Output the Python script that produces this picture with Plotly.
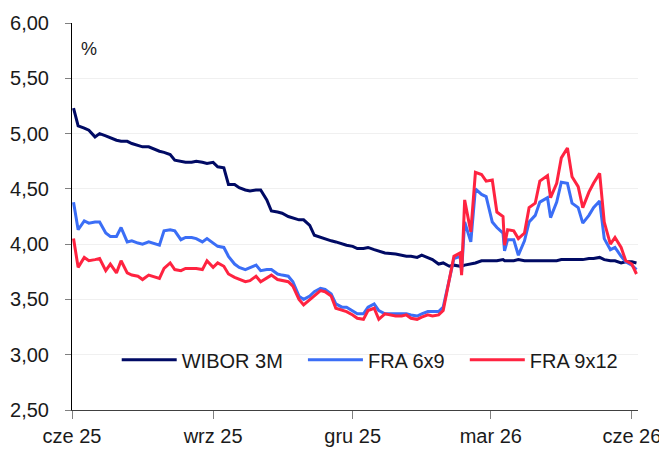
import plotly.graph_objects as go

# notowania (pon./czw.)
dates = [
    "2025-06-02", "2025-06-05", "2025-06-09", "2025-06-12", "2025-06-16", "2025-06-19",
    "2025-06-23", "2025-06-26", "2025-06-30", "2025-07-03", "2025-07-07", "2025-07-10",
    "2025-07-14", "2025-07-17", "2025-07-21", "2025-07-24", "2025-07-28", "2025-07-31",
    "2025-08-04", "2025-08-07", "2025-08-11", "2025-08-14", "2025-08-18", "2025-08-21",
    "2025-08-25", "2025-08-28", "2025-09-01", "2025-09-04", "2025-09-08", "2025-09-11",
    "2025-09-15", "2025-09-18", "2025-09-22", "2025-09-25", "2025-09-29", "2025-10-02",
    "2025-10-06", "2025-10-09", "2025-10-13", "2025-10-16", "2025-10-20", "2025-10-23",
    "2025-10-27", "2025-10-30", "2025-11-03", "2025-11-06", "2025-11-10", "2025-11-13",
    "2025-11-17", "2025-11-20", "2025-11-24", "2025-11-27", "2025-12-01", "2025-12-04",
    "2025-12-08", "2025-12-11", "2025-12-15", "2025-12-18", "2025-12-22", "2025-12-29",
    "2026-01-02", "2026-01-05", "2026-01-08", "2026-01-12", "2026-01-15", "2026-01-19",
    "2026-01-22", "2026-01-26", "2026-01-29", "2026-02-02", "2026-02-05", "2026-02-09",
    "2026-02-10", "2026-02-12", "2026-02-16", "2026-02-19", "2026-02-23", "2026-02-26",
    "2026-03-02", "2026-03-05", "2026-03-09", "2026-03-10", "2026-03-12", "2026-03-16",
    "2026-03-19", "2026-03-23", "2026-03-26", "2026-03-30", "2026-04-02", "2026-04-07",
    "2026-04-09", "2026-04-13", "2026-04-16", "2026-04-20", "2026-04-23", "2026-04-27",
    "2026-04-30", "2026-05-04", "2026-05-07", "2026-05-11", "2026-05-14", "2026-05-18",
    "2026-05-21", "2026-05-25", "2026-05-28", "2026-06-01", "2026-06-04",
]

wibor_3m = [
    5.23, 5.07, 5.05, 5.03, 4.97, 5.00,
    4.98, 4.96, 4.94, 4.93, 4.93, 4.91,
    4.89, 4.88, 4.88, 4.86, 4.84, 4.83,
    4.81, 4.76, 4.75, 4.74, 4.74, 4.75,
    4.74, 4.73, 4.74, 4.70, 4.69, 4.54,
    4.54, 4.51, 4.49, 4.48, 4.49, 4.49,
    4.40, 4.30, 4.29, 4.28, 4.25, 4.24,
    4.22, 4.22, 4.17, 4.08, 4.06, 4.05,
    4.03, 4.02, 4.00, 3.99, 3.98, 3.96,
    3.96, 3.97, 3.95, 3.94, 3.92, 3.91,
    3.90, 3.89, 3.89, 3.88, 3.90, 3.88,
    3.86, 3.82, 3.83, 3.80, 3.81, 3.80,
    3.80, 3.81, 3.82, 3.83, 3.85, 3.85,
    3.85, 3.85, 3.86, 3.85, 3.85, 3.85,
    3.86, 3.85, 3.85, 3.85, 3.85, 3.85,
    3.85, 3.85, 3.86, 3.86, 3.86, 3.86,
    3.86, 3.87, 3.87, 3.88, 3.86, 3.85,
    3.85, 3.83, 3.84, 3.84, 3.83,
]

fra_6x9 = [
    4.38, 4.13, 4.21, 4.19, 4.20, 4.20,
    4.10, 4.07, 4.07, 4.15, 4.02, 4.03,
    4.01, 4.00, 4.02, 4.01, 3.99, 4.12,
    4.13, 4.12, 4.04, 4.06, 4.06, 4.05,
    4.02, 4.05, 4.01, 3.98, 3.97, 3.89,
    3.82, 3.79, 3.77, 3.79, 3.81, 3.76,
    3.77, 3.77, 3.73, 3.72, 3.71, 3.66,
    3.53, 3.50, 3.53, 3.57, 3.60, 3.59,
    3.55, 3.46, 3.43, 3.43, 3.40, 3.37,
    3.37, 3.43, 3.46, 3.40, 3.37, 3.37,
    3.37, 3.37, 3.36, 3.35, 3.37, 3.39,
    3.39, 3.39, 3.43, 3.70, 3.87, 3.89,
    3.75, 4.20, 4.02, 4.50, 4.45, 4.43,
    4.20, 4.15, 4.10, 3.94, 4.04, 4.04,
    3.90, 4.03, 4.20, 4.26, 4.38, 4.42,
    4.24, 4.38, 4.56, 4.55, 4.37, 4.33,
    4.19, 4.26, 4.33, 4.39, 4.05, 3.95,
    3.97, 3.89, 3.84, 3.81, 3.77,
]

fra_9x12 = [
    4.05, 3.79, 3.88, 3.85, 3.86, 3.87,
    3.76, 3.82, 3.74, 3.85, 3.74, 3.72,
    3.71, 3.68, 3.72, 3.71, 3.69, 3.78,
    3.83, 3.77, 3.76, 3.78, 3.78, 3.78,
    3.77, 3.85, 3.79, 3.83, 3.80, 3.73,
    3.70, 3.68, 3.66, 3.67, 3.71, 3.66,
    3.69, 3.72, 3.68, 3.67, 3.66, 3.62,
    3.50, 3.45, 3.50, 3.53, 3.58, 3.57,
    3.53, 3.42, 3.40, 3.39, 3.36, 3.33,
    3.32, 3.40, 3.42, 3.32, 3.37, 3.35,
    3.35, 3.36, 3.33, 3.32, 3.34, 3.36,
    3.35, 3.36, 3.40, 3.70, 3.89, 3.92,
    3.72, 4.40, 4.11, 4.65, 4.63, 4.57,
    4.58, 4.29, 4.25, 3.99, 4.13, 4.12,
    4.05, 4.10, 4.33, 4.37, 4.57, 4.62,
    4.42, 4.55, 4.78, 4.87, 4.61, 4.52,
    4.33, 4.47, 4.55, 4.64, 4.20, 4.00,
    4.06, 3.97, 3.85, 3.82, 3.73,
]

tick_dates = ["2025-06-01", "2025-09-01", "2025-12-01", "2026-03-01", "2026-06-01"]
tick_labels = ["cze 25", "wrz 25", "gru 25", "mar 26", "cze 26"]

FONT = "Liberation Sans, Arial, sans-serif"

fig = go.Figure()
fig.add_trace(go.Scatter(x=dates, y=wibor_3m, name="WIBOR 3M", mode="lines",
                         line=dict(color="#000A64", width=3), legend="legend"))
fig.add_trace(go.Scatter(x=dates, y=fra_6x9, name="FRA 6x9", mode="lines",
                         line=dict(color="#3B6EF6", width=3), legend="legend2"))
fig.add_trace(go.Scatter(x=dates, y=fra_9x12, name="FRA 9x12", mode="lines",
                         line=dict(color="#FF2340", width=3), legend="legend3"))

# trzy osobne legendy, zeby odstepy byly jak w oryginale
leg = dict(orientation="h", y=0.13, xanchor="left", yanchor="middle",
           bgcolor="rgba(0,0,0,0)", font=dict(size=20), itemwidth=55)

# strona ma 8px marginesu body, wiec figura jest o 8px mniejsza
fig.update_layout(
    width=659,
    height=442,
    margin=dict(l=64, r=29, t=15, b=40, autoexpand=False),
    paper_bgcolor="white",
    plot_bgcolor="white",
    separators=", ",
    font=dict(family=FONT, size=20, color="#1a1a1a"),
    showlegend=True,
    legend=dict(leg, x=0.079),
    legend2=dict(leg, x=0.408),
    legend3=dict(leg, x=0.694),
    annotations=[dict(
        text="%", x=0.03, y=0.933, xref="paper", yref="paper",
        xanchor="center", yanchor="middle",
        showarrow=False, font=dict(size=18, color="#1a1a1a"),
    )],
)

fig.update_xaxes(
    type="date",
    range=["2025-06-01", "2026-06-05"],
    tickvals=tick_dates,
    ticktext=tick_labels,
    showgrid=False,
    showline=True, linecolor="#404040", linewidth=1,
    ticks="outside", ticklen=8, tickcolor="#808080",
    tickfont=dict(size=20),
    automargin=False,
)

fig.update_yaxes(
    range=[2.5, 6.0],
    dtick=0.5,
    tickformat=".2f",
    showgrid=True, gridcolor="#f0f0f0", gridwidth=1,
    zeroline=False,
    showline=True, linecolor="#000000", linewidth=1,
    ticks="outside", ticklen=6, tickcolor="#808080",
    tickfont=dict(size=20),
    ticklabelstandoff=12,
    automargin=False,
)

fig.write_html("out.html")
